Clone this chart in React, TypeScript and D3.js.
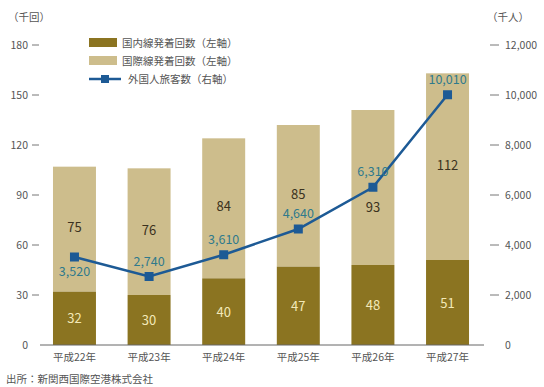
import React, { useEffect, useRef } from 'react';
import * as d3 from 'd3';

const years = ['平成22年', '平成23年', '平成24年', '平成25年', '平成26年', '平成27年'];
const domestic = [32, 30, 40, 47, 48, 51];
const international = [75, 76, 84, 85, 93, 112];
const visitors = [3520, 2740, 3610, 4640, 6310, 10010];
const leftTicks = [0, 30, 60, 90, 120, 150, 180];
const rightTicks = [0, 2000, 4000, 6000, 8000, 10000, 12000];

const width = 544;
const height = 387;
const font = '"Noto Sans CJK JP", "Noto Sans", sans-serif';

const App: React.FC = () => {
  const svgRef = useRef<SVGSVGElement>(null);

  useEffect(() => {
    if (!svgRef.current) return;
    const svg = d3.select(svgRef.current);
    svg.selectAll('*').remove();

    const x0 = 40, x1 = 484, yTop = 45, yBot = 345;
    const x = d3.scaleBand<string>().domain(years).range([40, 482]).paddingInner(0.424).paddingOuter(0.174);
    const yL = d3.scaleLinear().domain([0, 180]).range([yBot, yTop]);
    const yR = d3.scaleLinear().domain([0, 12000]).range([yBot, yTop]);

    const dark = '#8b7421';
    const light = '#cdbd8c';
    const blue = '#1d5a95';

    // bars
    const g = svg.append('g');
    years.forEach((yr, i) => {
      const bx = x(yr)!;
      const mx = bx + x.bandwidth() / 2;
      g.append('rect').attr('x', bx).attr('width', x.bandwidth())
        .attr('y', yL(domestic[i] + international[i])).attr('height', yL(domestic[i]) - yL(domestic[i] + international[i]))
        .attr('fill', light);
      g.append('rect').attr('x', bx).attr('width', x.bandwidth())
        .attr('y', yL(domestic[i])).attr('height', yBot - yL(domestic[i]))
        .attr('fill', dark);
      g.append('text').attr('x', mx).attr('y', yL(domestic[i] / 2) + 5)
        .attr('text-anchor', 'middle').attr('font-size', 13).attr('fill', '#f3e9b8')
        .text(domestic[i]);
      // keep the international label clear of the visitor line marker
      let ly = yL(domestic[i] + international[i] / 2);
      const py = yR(visitors[i]);
      if (Math.abs(ly - py) < 18) ly = py + 22;
      g.append('text').attr('x', mx).attr('y', ly + 3)
        .attr('text-anchor', 'middle').attr('font-size', 13).attr('fill', '#3b3220')
        .text(international[i]);
      g.append('text').attr('x', mx).attr('y', 361)
        .attr('text-anchor', 'middle').attr('font-size', 10.5).attr('fill', '#555')
        .text(yr);
    });

    // baseline
    svg.append('line').attr('x1', x0).attr('x2', x1).attr('y1', yBot).attr('y2', yBot)
      .attr('stroke', '#666').attr('stroke-width', 1);

    // left axis
    leftTicks.forEach(t => {
      svg.append('text').attr('x', 28).attr('y', yL(t) + 4).attr('text-anchor', 'end')
        .attr('font-size', 10.5).attr('fill', '#555').text(t);
      if (t > 0) svg.append('line').attr('x1', 32).attr('x2', 39).attr('y1', yL(t)).attr('y2', yL(t))
        .attr('stroke', '#777');
    });
    svg.append('text').attr('x', 8).attr('y', 21).attr('font-size', 10.5).attr('fill', '#555').text('（千回）');

    // right axis
    rightTicks.forEach(t => {
      svg.append('text').attr('x', 505).attr('y', yR(t) + 4).attr('font-size', 10.5).attr('fill', '#555')
        .text(t === 0 ? '0' : d3.format(',')(t));
      if (t > 0) svg.append('line').attr('x1', 490).attr('x2', 499).attr('y1', yR(t)).attr('y2', yR(t))
        .attr('stroke', '#777');
    });
    svg.append('text').attr('x', 487).attr('y', 21).attr('font-size', 10.5).attr('fill', '#555').text('（千人）');

    // line
    const cx = (i: number) => x(years[i])! + x.bandwidth() / 2;
    const line = d3.line<number>().x((_, i) => cx(i)).y(d => yR(d));
    svg.append('path').datum(visitors).attr('d', line).attr('fill', 'none')
      .attr('stroke', blue).attr('stroke-width', 2.5);
    visitors.forEach((v, i) => {
      svg.append('rect').attr('x', cx(i) - 4.5).attr('y', yR(v) - 4.5).attr('width', 9).attr('height', 9)
        .attr('fill', blue);
      const below = i === 0;
      svg.append('text').attr('x', cx(i)).attr('y', below ? yR(v) + 19 : yR(v) - 11)
        .attr('text-anchor', 'middle').attr('font-size', 12.5).attr('fill', '#2f7a8c')
        .text(d3.format(',')(v));
    });

    // legend
    const lg = svg.append('g').attr('font-size', 10.5).attr('fill', '#555');
    lg.append('rect').attr('x', 89).attr('y', 38).attr('width', 28).attr('height', 9).attr('fill', dark);
    lg.append('text').attr('x', 122).attr('y', 47).text('国内線発着回数（左軸）');
    lg.append('rect').attr('x', 89).attr('y', 56).attr('width', 28).attr('height', 9).attr('fill', light);
    lg.append('text').attr('x', 122).attr('y', 65).text('国際線発着回数（左軸）');
    lg.append('line').attr('x1', 89).attr('x2', 121).attr('y1', 79).attr('y2', 79).attr('stroke', blue).attr('stroke-width', 2.5);
    lg.append('rect').attr('x', 101).attr('y', 75).attr('width', 8).attr('height', 8).attr('fill', blue);
    lg.append('text').attr('x', 128).attr('y', 83).text('外国人旅客数（右軸）');

    // source
    svg.append('text').attr('x', 6).attr('y', 383).attr('font-size', 10.5).attr('fill', '#555')
      .text('出所：新関西国際空港株式会社');
  }, []);

  return (
    <svg ref={svgRef} width={width} height={height}
      style={{ position: 'absolute', left: 0, top: 0, fontFamily: font, background: '#fff' }} />
  );
};

export default App;
